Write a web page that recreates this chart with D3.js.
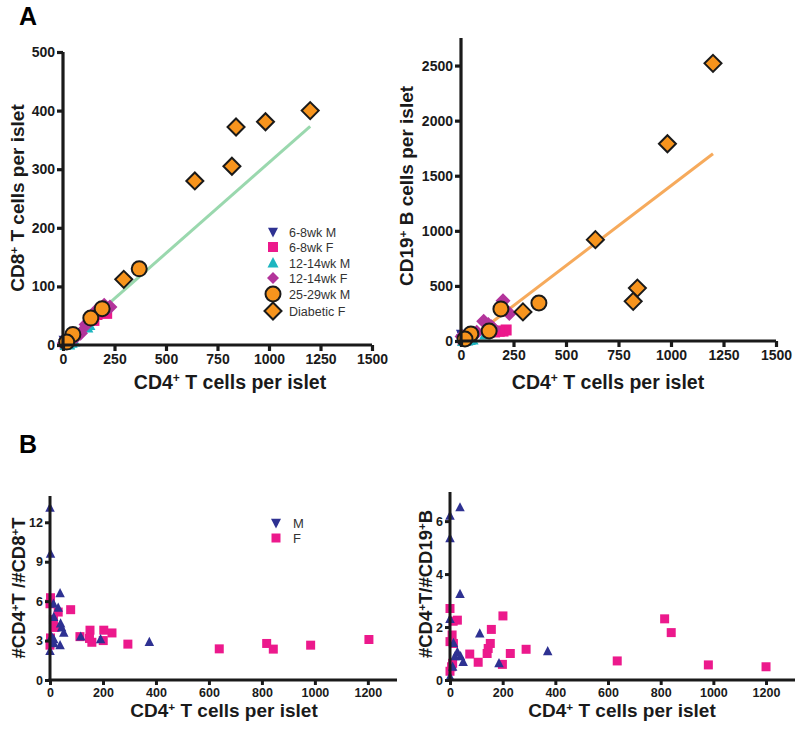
<!DOCTYPE html>
<html>
<head>
<meta charset="utf-8">
<script src="https://cdn.jsdelivr.net/npm/d3@7"></script>
<style>
  html, body { margin: 0; padding: 0; background: #fff; }
  svg { display: block; font-family: "Liberation Sans", Arial, sans-serif; }
</style>
</head>
<body>
<svg id="chart" width="800" height="729"></svg>
<script>
// ---------------- DATA ----------------
// Panel A (left): CD4 vs CD8 per islet
const cd8_6_8wkM   = [[3,2],[8,4],[12,6],[5,8],[15,3]];
const cd8_6_8wkF   = [[200,55],[212,54],[165,52],[150,42],[30,6],[10,3]];
const cd8_12_14wkM = [[118,30],[128,34],[30,1],[42,4],[12,0],[55,6]];
const cd8_12_14wkF = [[200,68],[228,65],[160,58],[150,52],[112,35],[85,20],[65,15],[45,10],[20,6],[6,3]];
const cd8_25_29wkM = [[370,130],[190,62],[135,46],[48,18],[18,5]];
const cd8_diabeticF= [[1200,400],[983,381],[840,372],[820,305],[640,280],[295,112]];
const cd8Fit       = [[0,2],[1200,373]];

// Panel A (right): CD4 vs CD19 per islet
const cd19_6_8wkM   = [[3,20],[8,40],[2,60],[14,30],[6,50]];
const cd19_6_8wkF   = [[200,90],[215,100],[182,88],[160,82],[30,12],[10,5]];
const cd19_12_14wkM = [[115,60],[30,5],[42,10],[10,0],[55,15],[20,3]];
const cd19_12_14wkF = [[200,365],[230,250],[108,180],[145,130],[153,111],[130,150],[75,80],[60,60],[20,20],[5,40]];
const cd19_25_29wkM = [[371,345],[190,291],[134,91],[47,64],[19,18]];
const cd19_diabeticF= [[1200,2520],[983,1790],[640,920],[840,480],[820,360],[295,264]];
const cd19Fit       = [[150,175],[1200,1700]];

// Panel B (left): CD4 vs CD4/CD8 ratio
const ratio8_M = [[0,13.1],[2,9.6],[38,6.6],[31,5.5],[13,5.8],[14,4.8],[40,4.3],[44,4.0],[52,3.6],
                  [116,3.3],[191,3.1],[375,2.9],[38,2.65],[14,2.8],[6,3.3],[0,2.2],[14,3.1]];
const ratio8_F = [[1204,3.08],[984,2.65],[843,2.35],[818,2.78],[639,2.37],[294,2.73],[234,3.58],[203,3.79],
                  [201,3.0],[158,2.87],[151,3.79],[149,3.16],[113,3.3],[78,5.35],[31,5.17],[19,4.0],
                  [13,4.6],[2,6.26],[0,5.8],[0,2.65],[2,3.2]];

// Panel B (right): CD4 vs CD4/CD19 ratio
const ratio19_M = [[38,6.52],[0,6.2],[0,5.35],[38,3.25],[0,2.3],[113,1.76],[371,1.09],[186,0.63],
                   [50,0.68],[40,0.9],[28,1.06],[13,1.4],[10,0.5],[0,0.12],[19,0.9]];
const ratio19_F = [[1200,0.5],[981,0.57],[815,2.31],[840,1.79],[635,0.72],[289,1.16],[229,1.0],[201,2.42],
                   [199,0.59],[157,1.91],[153,1.38],[145,1.19],[141,1.0],[107,0.67],[75,0.98],[28,2.26],
                   [12,2.22],[0,2.7],[8,1.7],[0,1.45],[13,1.38],[6,0.5],[0,0.33],[10,0.63]];

// Ticks
const ticksAx   = [0,250,500,750,1000,1250,1500];
const ticksAy8  = [0,100,200,300,400,500];
const ticksAy19 = [0,500,1000,1500,2000,2500];
const ticksBx   = [0,200,400,600,800,1000,1200];
const ticksBy8  = [0,3,6,9,12];
const ticksBy19 = [0,2,4,6];

const legendA = ["6-8wk M","6-8wk F","12-14wk M","12-14wk F","25-29wk M","Diabetic F"];
const legendB = ["M","F"];

// ---------------- STYLE ----------------
const C = {
  navy: "#2e3192", pink: "#ec198c", cyan: "#1db5c0", magenta: "#b3349b",
  orange: "#f7941d", green: "#9ad8ae", orangeLine: "#f6aa5c", axis: "#1a1a1a"
};

function shapePath(type, s) {
  const h = s / 2;
  switch (type) {
    case "tri":     return `M0,${-s*0.55}L${h},${s*0.42}L${-h},${s*0.42}Z`;
    case "tridown": return `M0,${s*0.55}L${h},${-s*0.42}L${-h},${-s*0.42}Z`;
    case "square":  return `M${-h},${-h}h${s}v${s}h${-s}Z`;
    case "diamond": return `M0,${-h}L${h},0L0,${h}L${-h},0Z`;
    case "circle":  return `M${h},0A${h},${h} 0 1,1 ${-h},0A${h},${h} 0 1,1 ${h},0Z`;
  }
}

const svg = d3.select("#chart");

function superText(sel, parts, size) {
  parts.forEach(([t, sup]) => {
    const ts = sel.append("tspan").text(t);
    if (sup) ts.attr("baseline-shift", "super").attr("font-size", size * 0.62);
  });
}

function panel(cfg) {
  const x = d3.scaleLinear().domain(cfg.xDomain).range([cfg.x0, cfg.x1]);
  const y = d3.scaleLinear().domain(cfg.yDomain).range([cfg.y0, cfg.y1]);
  const g = svg.append("g");

  cfg.lines.forEach(l => {
    g.append("path").datum(l.data)
      .attr("d", d3.line().x(d => x(d[0])).y(d => y(d[1])))
      .attr("fill", "none").attr("stroke", l.color).attr("stroke-width", 3);
  });
  cfg.series.forEach(s => {
    g.append("g").selectAll("path").data(s.data).join("path")
      .attr("transform", d => `translate(${x(d[0])},${y(d[1])})`)
      .attr("d", shapePath(s.shape, s.size))
      .attr("fill", s.color)
      .attr("stroke", s.stroke || "none")
      .attr("stroke-width", s.stroke ? 2 : 0);
  });

  const xAxis = d3.axisBottom(x).tickValues(cfg.xTicks).tickSize(cfg.tick).tickPadding(3).tickFormat(d3.format("d"));
  const yAxis = d3.axisLeft(y).tickValues(cfg.yTicks).tickSize(cfg.tick).tickPadding(2).tickFormat(d3.format("d"));
  const gx = g.append("g").attr("transform", `translate(0,${cfg.y0})`).call(xAxis);
  const gy = g.append("g").attr("transform", `translate(${cfg.x0},0)`).call(yAxis);
  [gx, gy].forEach(a => {
    a.select(".domain").attr("stroke", C.axis).attr("stroke-width", cfg.axisW);
    a.selectAll(".tick line").attr("stroke", C.axis).attr("stroke-width", cfg.axisW);
    a.selectAll(".tick text").attr("fill", C.axis).attr("font-size", cfg.tickFont)
      .attr("font-weight", "bold").attr("font-family", "Liberation Sans, Arial, sans-serif");
  });
  gx.select(".domain").attr("d", `M${cfg.x0 - cfg.axisW/2},0H${cfg.x1}`);
  gy.select(".domain").attr("d", `M0,${cfg.y0 + cfg.axisW/2}V${cfg.y1}`);

  const xt = svg.append("text").attr("x", cfg.xTitle[0]).attr("y", cfg.xTitle[1])
    .attr("text-anchor", "middle").attr("font-size", cfg.titleFont).attr("font-weight", "bold").attr("fill", C.axis);
  superText(xt, cfg.xLabel, cfg.titleFont);
  const yt = svg.append("text")
    .attr("transform", `translate(${cfg.yTitle[0]},${cfg.yTitle[1]}) rotate(-90)`)
    .attr("text-anchor", "middle").attr("font-size", cfg.yFont).attr("font-weight", "bold").attr("fill", C.axis);
  superText(yt, cfg.yLabel, cfg.yFont);
}

const cd4Label = [["CD4",false],["+",true],[" T cells per islet",false]];

// Panel A left
panel({
  xDomain: [0,1500], yDomain: [0,500], x0: 63, x1: 372, y0: 345, y1: 52,
  xTicks: ticksAx, yTicks: ticksAy8, tick: 6, axisW: 3.2, tickFont: 14,
  lines: [{data: cd8Fit, color: C.green}],
  series: [
    {data: cd8_6_8wkM, shape: "tridown", size: 11, color: C.navy},
    {data: cd8_6_8wkF, shape: "square", size: 11, color: C.pink},
    {data: cd8_12_14wkM, shape: "tri", size: 12, color: C.cyan},
    {data: cd8_12_14wkF, shape: "diamond", size: 15, color: C.magenta},
    {data: cd8_25_29wkM, shape: "circle", size: 15, color: C.orange, stroke: "#1a1a1a"},
    {data: cd8_diabeticF, shape: "diamond", size: 17, color: C.orange, stroke: "#1a1a1a"}
  ],
  xTitle: [230, 389], xLabel: cd4Label, titleFont: 19.5, yFont: 19,
  yTitle: [24, 198], yLabel: [["CD8",false],["+",true],[" T cells per islet",false]]
});

// Panel A right
panel({
  xDomain: [0,1500], yDomain: [0,2750], x0: 461, x1: 776, y0: 341, y1: 38,
  xTicks: ticksAx, yTicks: ticksAy19, tick: 6, axisW: 3.2, tickFont: 14,
  lines: [{data: cd19Fit, color: C.orangeLine}],
  series: [
    {data: cd19_6_8wkM, shape: "tridown", size: 11, color: C.navy},
    {data: cd19_6_8wkF, shape: "square", size: 11, color: C.pink},
    {data: cd19_12_14wkM, shape: "tri", size: 12, color: C.cyan},
    {data: cd19_12_14wkF, shape: "diamond", size: 15, color: C.magenta},
    {data: cd19_25_29wkM, shape: "circle", size: 15, color: C.orange, stroke: "#1a1a1a"},
    {data: cd19_diabeticF, shape: "diamond", size: 17, color: C.orange, stroke: "#1a1a1a"}
  ],
  xTitle: [608, 389], xLabel: cd4Label, titleFont: 19.5, yFont: 19,
  yTitle: [413, 186], yLabel: [["CD19",false],["+",true],[" B cells per islet",false]]
});

// Panel B left
panel({
  xDomain: [0,1310], yDomain: [0,14], x0: 50, x1: 397, y0: 680, y1: 496,
  xTicks: ticksBx, yTicks: ticksBy8, tick: 5, axisW: 3, tickFont: 12.5,
  lines: [],
  series: [
    {data: ratio8_F, shape: "square", size: 9, color: C.pink},
    {data: ratio8_M, shape: "tri", size: 9.5, color: C.navy}
  ],
  xTitle: [224, 717], xLabel: cd4Label, titleFont: 19, yFont: 18.5,
  yTitle: [25, 588], yLabel: [["#CD4",false],["+",true],["T /#CD8",false],["+",true],["T",false]]
});

// Panel B right
panel({
  xDomain: [0,1310], yDomain: [0,7.1], x0: 450, x1: 795, y0: 680, y1: 492,
  xTicks: ticksBx, yTicks: ticksBy19, tick: 5, axisW: 3, tickFont: 12.5,
  lines: [],
  series: [
    {data: ratio19_F, shape: "square", size: 9, color: C.pink},
    {data: ratio19_M, shape: "tri", size: 9.5, color: C.navy}
  ],
  xTitle: [622, 717], xLabel: cd4Label, titleFont: 19, yFont: 18.5,
  yTitle: [432, 584], yLabel: [["#CD4",false],["+",true],["T/#CD19",false],["+",true],["B",false]]
});

// Legend A
const legA = [
  {shape:"tridown", size:10, color:C.navy},
  {shape:"square", size:10, color:C.pink},
  {shape:"tri", size:11, color:C.cyan},
  {shape:"diamond", size:12, color:C.magenta},
  {shape:"circle", size:15, color:C.orange, stroke:"#1a1a1a"},
  {shape:"diamond", size:17, color:C.orange, stroke:"#1a1a1a"}
];
const legAy = [232, 247, 263, 278, 294, 311];
legendA.forEach((t, i) => {
  const s = legA[i];
  svg.append("path").attr("transform", `translate(273,${legAy[i]})`)
    .attr("d", shapePath(s.shape, s.size)).attr("fill", s.color)
    .attr("stroke", s.stroke || "none").attr("stroke-width", s.stroke ? 2 : 0);
  svg.append("text").attr("x", 289).attr("y", legAy[i] + 4.5).attr("font-size", 12.5)
    .attr("fill", "#333").text(t);
});

// Legend B
const legB = [{shape:"tridown", size:10, color:C.navy}, {shape:"square", size:9, color:C.pink}];
const legBy = [523, 538];
legendB.forEach((t, i) => {
  svg.append("path").attr("transform", `translate(276,${legBy[i]})`)
    .attr("d", shapePath(legB[i].shape, legB[i].size)).attr("fill", legB[i].color);
  svg.append("text").attr("x", 293).attr("y", legBy[i] + 5).attr("font-size", 13)
    .attr("fill", "#333").text(t);
});

// Panel letters
svg.append("text").attr("x", 19).attr("y", 25).attr("font-size", 25).attr("font-weight", "bold").text("A");
svg.append("text").attr("x", 19).attr("y", 453).attr("font-size", 25).attr("font-weight", "bold").text("B");
</script>
</body>
</html>
